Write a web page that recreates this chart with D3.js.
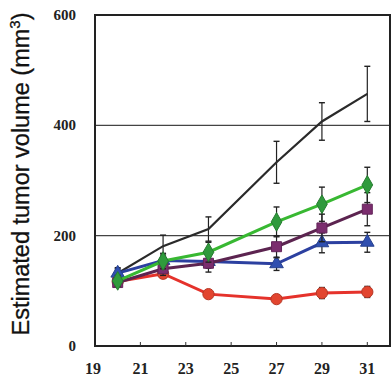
<!DOCTYPE html>
<html>
<head>
<meta charset="utf-8">
<script src="https://cdn.jsdelivr.net/npm/d3@7"></script>
<style>
  body { margin: 0; background: #fff; }
  svg { display: block; }
</style>
</head>
<body>
<svg width="392" height="377"></svg>
<script>
// days after inoculation
const days = [20, 22, 24, 27, 29, 31];
const xTicks = [19, 21, 23, 25, 27, 29, 31];
const yTicks = [0, 200, 400, 600];

// mean tumor volume and error per group
const blackVals = [132, 181, 212, 333, 407, 457];
const blackErr = [10, 20, 22, 38, 34, 50];
const greenVals = [118, 154, 170, 225, 257, 292];
const greenErr = [10, 14, 18, 27, 31, 32];
const purpleVals = [115, 140, 150, 180, 214, 248];
const purpleErr = [8, 12, 16, 20, 25, 30];
const blueVals = [132, 155, 153, 149, 187, 188];
const blueErr = [8, 10, 12, 12, 18, 18];
const redVals = [117, 131, 94, 85, 96, 98];
const redErr = [6, 8, 5, 7, 10, 10];

const svg = d3.select("svg");
const margin = { top: 15, right: 2, bottom: 31, left: 95 };
const width = 392 - margin.left - margin.right;
const height = 377 - margin.top - margin.bottom;

const x = d3.scaleLinear().domain([19, 32]).range([margin.left, margin.left + width]);
const y = d3.scaleLinear().domain([0, 600]).range([margin.top + height, margin.top]);

// gridlines at 200 and 400
svg.append("g")
  .selectAll("line")
  .data([200, 400])
  .enter()
  .append("line")
  .attr("x1", x(19)).attr("x2", x(32))
  .attr("y1", d => y(d)).attr("y2", d => y(d))
  .attr("stroke", "#444").attr("stroke-width", 1.2);

// frame
svg.append("rect")
  .attr("x", x(19)).attr("y", y(600))
  .attr("width", x(32) - x(19)).attr("height", y(0) - y(600))
  .attr("fill", "none").attr("stroke", "#222").attr("stroke-width", 2);

// x axis: small inner ticks, labels below
const xAxis = svg.append("g").attr("transform", `translate(0,${y(0)})`);
xAxis.selectAll("line")
  .data(xTicks.slice(1))
  .enter()
  .append("line")
  .attr("x1", d => x(d)).attr("x2", d => x(d))
  .attr("y1", 0).attr("y2", -4)
  .attr("stroke", "#333").attr("stroke-width", 1);
xAxis.selectAll("text")
  .data(xTicks)
  .enter()
  .append("text")
  .attr("x", d => x(d) - (d === 19 ? 2 : 0))
  .attr("y", 28)
  .attr("text-anchor", "middle")
  .attr("font-family", "Liberation Serif, serif")
  .attr("font-weight", "bold")
  .attr("font-size", 16)
  .attr("fill", "#222")
  .text(d => d);

// y tick labels
svg.append("g")
  .selectAll("text")
  .data(yTicks)
  .enter()
  .append("text")
  .attr("x", 76)
  .attr("y", d => y(d) + 5)
  .attr("text-anchor", "end")
  .attr("font-family", "Liberation Serif, serif")
  .attr("font-weight", "bold")
  .attr("font-size", 15)
  .attr("fill", "#222")
  .text(d => d);

// y axis title
svg.append("text")
  .attr("transform", "translate(29,174) rotate(-90)")
  .attr("text-anchor", "middle")
  .attr("font-family", "Liberation Sans, Arial, sans-serif")
  .attr("font-size", 23.5)
  .attr("fill", "#111")
  .attr("stroke", "#111")
  .attr("stroke-width", 0.3)
  .html("Estimated tumor volume (mm<tspan dy='-9' font-size='15'>3</tspan><tspan dy='9'>)</tspan>");

const series = [
  { vals: blackVals, err: blackErr, line: "#2a2a2a", fill: null, shape: null, lw: 2.2 },
  { vals: redVals, err: redErr, line: "#e5322b", fill: "#e2452f", shape: d3.symbolCircle, lw: 3 },
  { vals: blueVals, err: blueErr, line: "#2c40a0", fill: "#2f4fb0", shape: d3.symbolTriangle, lw: 3 },
  { vals: purpleVals, err: purpleErr, line: "#5c2450", fill: "#7b2d6e", shape: d3.symbolSquare, lw: 3 },
  { vals: greenVals, err: greenErr, line: "#38b832", fill: "#2f9a3c", shape: d3.symbolDiamond, lw: 3 }
];

const line = d3.line().x(d => x(d.day)).y(d => y(d.v));

series.forEach(s => {
  const pts = days.map((d, i) => ({ day: d, v: s.vals[i], e: s.err[i] }));
  const g = svg.append("g");

  // error bars
  const eb = g.selectAll(".eb").data(pts).enter().append("g").attr("class", "eb");
  eb.append("line")
    .attr("x1", d => x(d.day)).attr("x2", d => x(d.day))
    .attr("y1", d => y(d.v + d.e)).attr("y2", d => y(d.v - d.e))
    .attr("stroke", "#222").attr("stroke-width", 1.2);
  [1, -1].forEach(sign => {
    eb.append("line")
      .attr("x1", d => x(d.day) - 3).attr("x2", d => x(d.day) + 3)
      .attr("y1", d => y(d.v + sign * d.e)).attr("y2", d => y(d.v + sign * d.e))
      .attr("stroke", "#222").attr("stroke-width", 1.4);
  });

  g.append("path")
    .datum(pts)
    .attr("d", line)
    .attr("fill", "none")
    .attr("stroke", s.line)
    .attr("stroke-width", s.lw);

  if (s.shape) {
    g.selectAll(".pt").data(pts).enter()
      .append("path")
      .attr("transform", d => `translate(${x(d.day)},${y(d.v)})`)
      .attr("d", d3.symbol().type(s.shape).size(s.shape === d3.symbolTriangle ? 80 : 100))
      .attr("fill", s.fill)
      .attr("stroke", d3.color(s.fill).darker(0.6))
      .attr("stroke-width", 1);
  }
});
</script>
</body>
</html>
